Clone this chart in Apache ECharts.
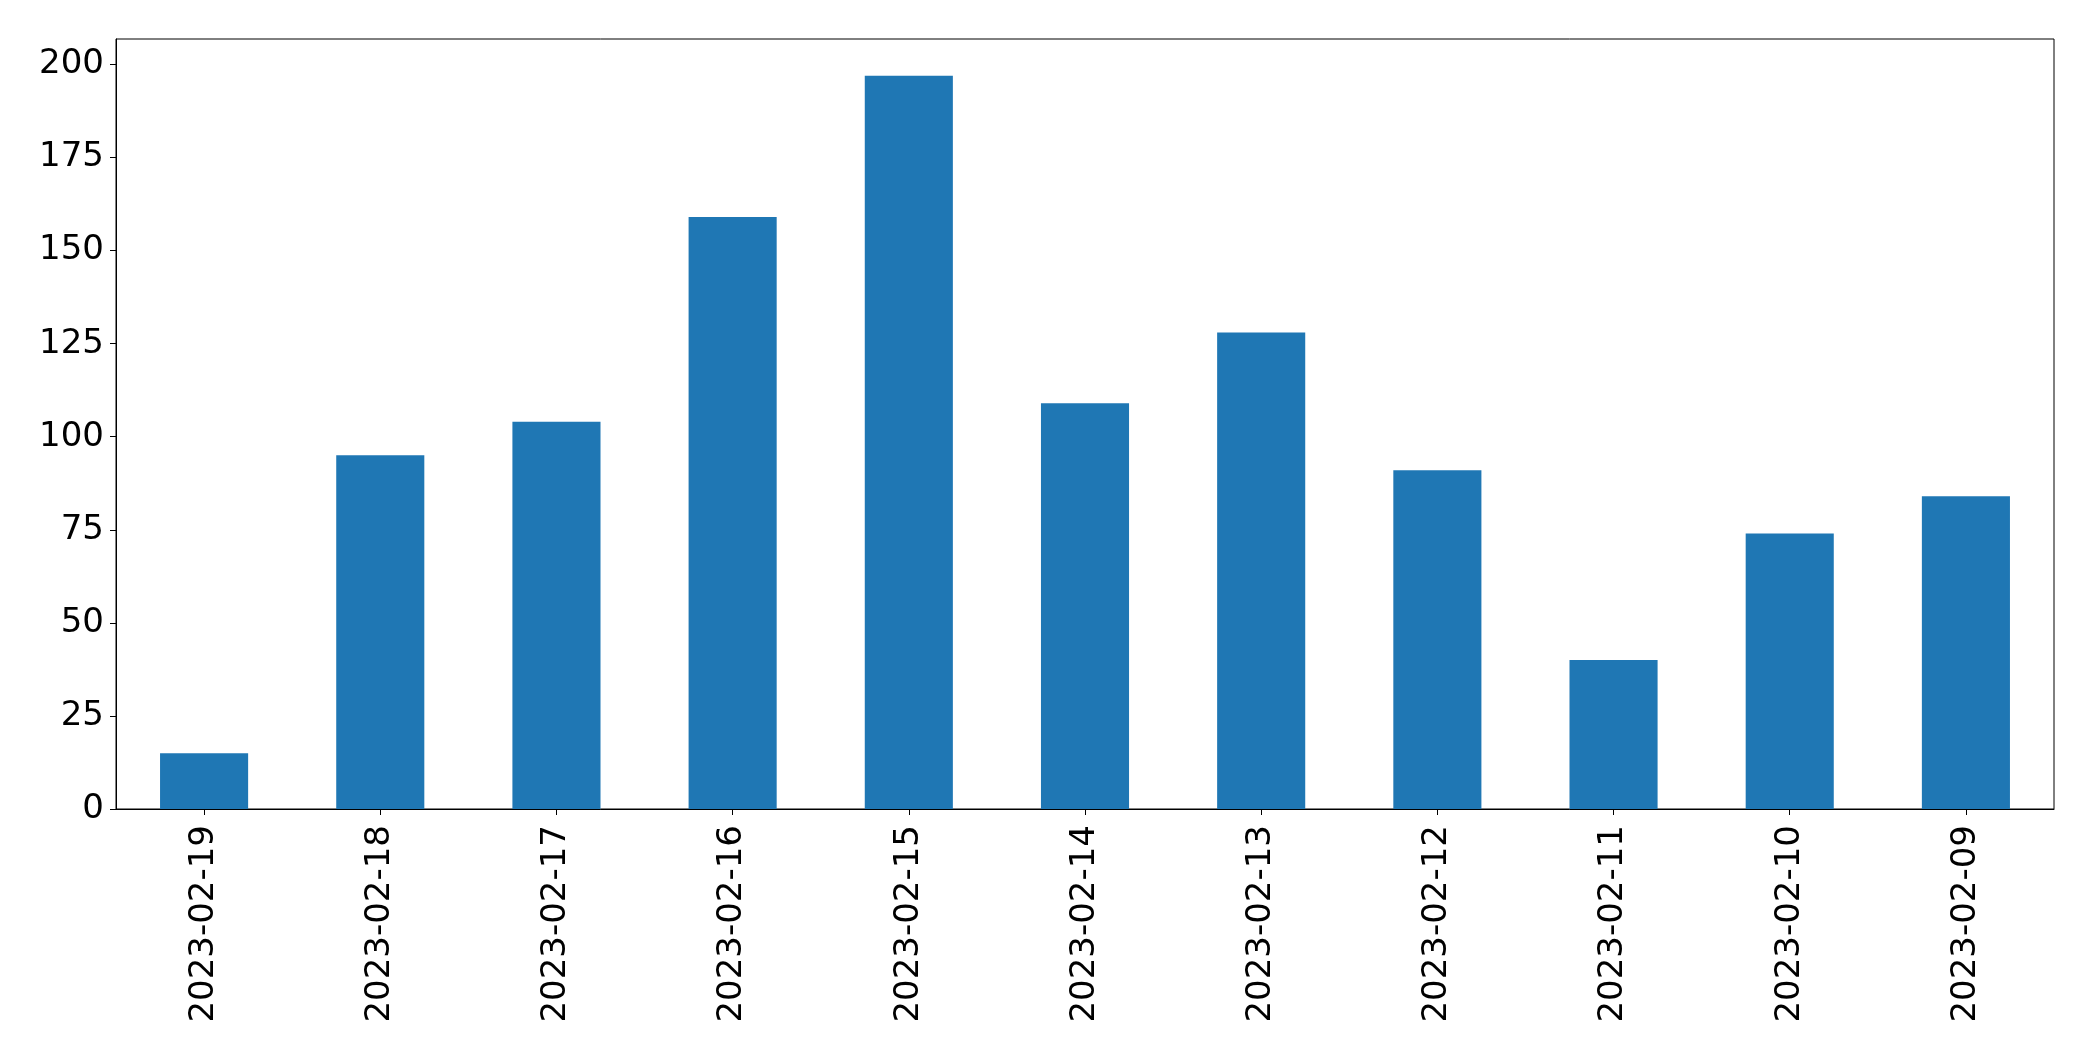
<!DOCTYPE html>
<html>
<head>
<meta charset="utf-8">
<script src="https://cdn.jsdelivr.net/npm/echarts@6/dist/echarts.min.js"></script>
<style>
html,body{margin:0;padding:0;background:#fff;}
#chart{width:2093px;height:1061px;}
</style>
</head>
<body>
<div id="chart"></div>
<script>
const categories = ['2023-02-19','2023-02-18','2023-02-17','2023-02-16','2023-02-15','2023-02-14','2023-02-13','2023-02-12','2023-02-11','2023-02-10','2023-02-09'];
const values = [15, 95, 104, 159, 197, 109, 128, 91, 40, 74, 84];
const yTicks = [0, 25, 50, 75, 100, 125, 150, 175, 200];

const chart = echarts.init(document.getElementById('chart'), null, {renderer: 'canvas'});
const font = 'DejaVu Sans';
chart.setOption({
  animation: false,
  backgroundColor: '#ffffff',
  grid: {
    left: 116, right: 39, top: 39, bottom: 252,
    show: true, borderColor: '#000', borderWidth: 1, backgroundColor: 'transparent'
  },
  xAxis: {
    type: 'category',
    data: categories,
    boundaryGap: true,
    axisLine: {show: true, lineStyle: {color: '#000', width: 1}},
    axisTick: {show: true, alignWithLabel: true, length: 6, lineStyle: {color: '#000', width: 1}},
    axisLabel: {rotate: 90, margin: 16, color: '#000', fontFamily: font, fontSize: 34, interval: 0},
    splitLine: {show: false}
  },
  yAxis: {
    type: 'value',
    min: 0,
    max: 206.85,
    interval: 25,
    axisLine: {show: true, lineStyle: {color: '#000', width: 1}},
    axisTick: {show: true, length: 6, lineStyle: {color: '#000', width: 1}, customValues: yTicks},
    axisLabel: {color: '#000', fontFamily: font, fontSize: 34, margin: 12, customValues: yTicks},
    splitLine: {show: false}
  },
  series: [{
    type: 'bar',
    data: values,
    barWidth: '50%',
    itemStyle: {color: '#1f77b4'}
  }]
});
</script>
</body>
</html>
